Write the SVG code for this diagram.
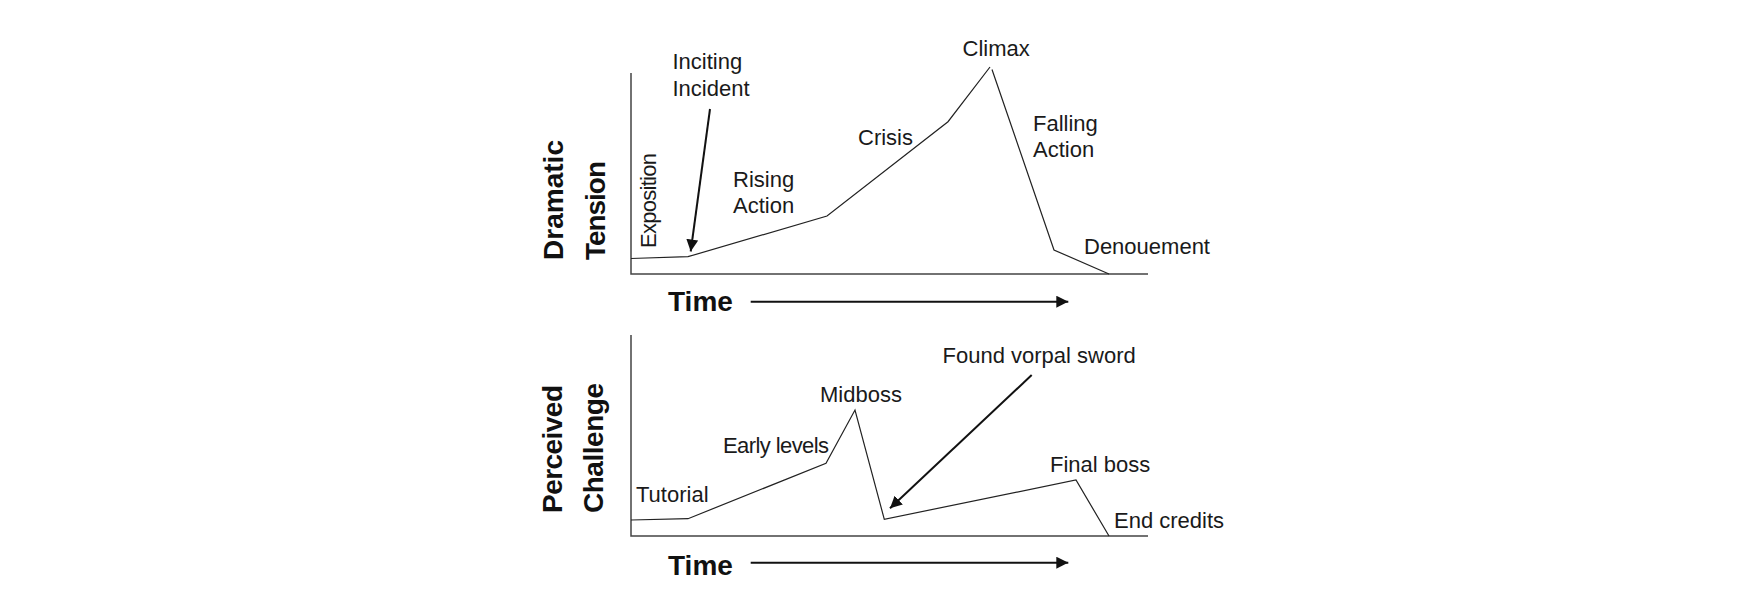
<svg xmlns="http://www.w3.org/2000/svg" width="1762" height="598" viewBox="0 0 1762 598">
<style>
.lbl{font-family:"Liberation Sans",Arial,sans-serif;font-size:22px;fill:#1a1a1a}
.ax{font-family:"Liberation Sans",Arial,sans-serif;font-size:28px;font-weight:bold;fill:#111}
.axis{stroke:#444;stroke-width:1.5;fill:none}
.curve{stroke:#222;stroke-width:1.2;fill:none;stroke-linejoin:miter}
.arr{stroke:#111;stroke-width:2;fill:none}
</style>
<defs>
<marker id="ah" viewBox="0 0 10 10" refX="10" refY="5" markerWidth="6" markerHeight="6" markerUnits="strokeWidth" orient="auto">
<path d="M0,0 L10,5 L0,10 z" fill="#111"/>
</marker>
</defs>
<rect width="1762" height="598" fill="#fff"/>
<g id="top-chart">
<g id="top-axes">
<polyline class="axis" points="631,73 631,274 1148,274"/>
</g>
<text class="ax" transform="translate(563,260) rotate(-90)" textLength="120">Dramatic</text>
<text class="ax" transform="translate(605,260) rotate(-90)" textLength="99">Tension</text>
<text class="ax" x="668" y="311">Time</text>
<g id="top-curve">
<polyline class="curve" points="631,258.5 688,256.7 827,216 948,121.7 990,67"/>
<polyline class="curve" points="992,69.5 1054,250 1109,274"/>
</g>
<g id="n-exposition"><text class="lbl" transform="translate(656,248) rotate(-90)" textLength="95">Exposition</text></g>
<g id="n-inciting"><text class="lbl" x="672.5" y="69">Inciting</text><text class="lbl" x="672.5" y="95.5">Incident</text></g>
<g id="n-rising"><text class="lbl" x="733" y="186.5">Rising</text><text class="lbl" x="733" y="212.5">Action</text></g>
<g id="n-crisis"><text class="lbl" x="858" y="145">Crisis</text></g>
<g id="n-climax"><text class="lbl" x="962.5" y="56">Climax</text></g>
<g id="n-falling"><text class="lbl" x="1033" y="130.5">Falling</text><text class="lbl" x="1033" y="156.5">Action</text></g>
<g id="n-denouement"><text class="lbl" x="1084" y="254">Denouement</text></g>
</g>
<g id="bottom-chart">
<g id="bottom-axes">
<polyline class="axis" points="631,335 631,536 1148,536"/>
</g>
<text class="ax" transform="translate(562,513) rotate(-90)" textLength="128">Perceived</text>
<text class="ax" transform="translate(603,513) rotate(-90)" textLength="130">Challenge</text>
<text class="ax" x="668" y="575">Time</text>
<g id="bottom-curve">
<polyline class="curve" points="631,520 688,518.7 826,463.3 855,410 884.3,519.3 1076,480 1109,536"/>
</g>
<g id="n-tutorial"><text class="lbl" x="636" y="501.5">Tutorial</text></g>
<g id="n-early"><text class="lbl" x="723" y="453" textLength="106">Early levels</text></g>
<g id="n-midboss"><text class="lbl" x="820" y="401.5">Midboss</text></g>
<g id="n-vorpal"><text class="lbl" x="942.5" y="362.5">Found vorpal sword</text></g>
<g id="n-finalboss"><text class="lbl" x="1050" y="471.5">Final boss</text></g>
<g id="n-credits"><text class="lbl" x="1114" y="528">End credits</text></g>
</g>
<g id="connectors">
<line class="arr" x1="710" y1="109" x2="690.7" y2="251.5" marker-end="url(#ah)"/>
<line class="arr" x1="1031.7" y1="375" x2="890" y2="508.3" marker-end="url(#ah)"/>
<line class="arr" x1="750.7" y1="301.7" x2="1068.3" y2="301.7" marker-end="url(#ah)"/>
<line class="arr" x1="750.7" y1="562.7" x2="1068.3" y2="562.7" marker-end="url(#ah)"/>
</g>
</svg>
